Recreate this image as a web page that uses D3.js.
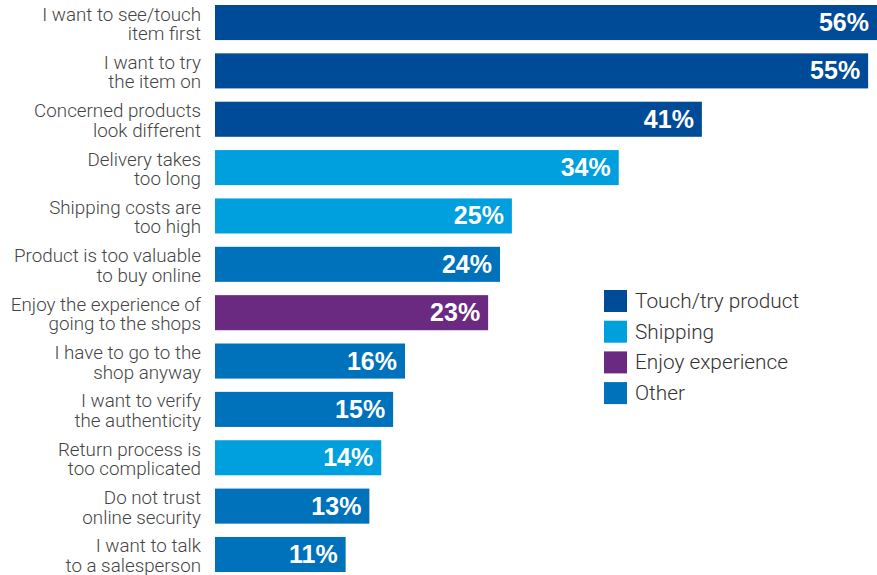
<!DOCTYPE html>
<html>
<head>
<meta charset="utf-8">
<script src="https://cdn.jsdelivr.net/npm/d3@7"></script>
<style>
  html, body { margin: 0; padding: 0; background: #fff; }
  svg { display: block; }
</style>
</head>
<body>
<div id="container"></div>
<script>
const WIDTH = 877;
const HEIGHT = 575;
const LEFT = 215;

// reasons, one entry per bar (two lines each)
var CATEGORIES = [
    ["I want to see/touch", "item first"],
    ["I want to try", "the item on"],
    ["Concerned products", "look different"],
    ["Delivery takes", "too long"],
    ["Shipping costs are", "too high"],
    ["Product is too valuable", "to buy online"],
    ["Enjoy the experience of", "going to the shops"],
    ["I have to go to the", "shop anyway"],
    ["I want to verify", "the authenticity"],
    ["Return process is", "too complicated"],
    ["Do not trust", "online security"],
    ["I want to talk", "to a salesperson"]
];
var VALUES = [56, 55, 41, 34, 25, 24, 23, 16, 15, 14, 13, 11];
var GROUPS = ["Touch/try product", "Touch/try product", "Touch/try product",
    "Shipping", "Shipping", "Other", "Enjoy experience", "Other",
    "Other", "Shipping", "Other", "Other"];
var LEGEND = ["Touch/try product", "Shipping", "Enjoy experience", "Other"];
var COLORS = ["#004b98", "#00a0de", "#6b2a82", "#0071bb"];

var color = d3.scaleOrdinal().domain(LEGEND).range(COLORS);

var XScale = d3.scaleLinear().domain([0, 56]).range([LEFT, 880]);
var YScale = d3.scaleBand()
    .domain(d3.range(CATEGORIES.length))
    .range([5, 572])
    .paddingInner(0.275)
    .paddingOuter(0);

var generateChart = function () {
    var svg = d3.select("#container").append("svg")
        .attr("width", WIDTH)
        .attr("height", HEIGHT);

    var rows = svg.selectAll(".row")
        .data(VALUES)
        .enter().append("g")
        .attr("class", "row");

    rows.append("rect")
        .attr("x", XScale(0))
        .attr("y", function (d, i) { return YScale(i); })
        .attr("width", function (d) { return Math.min(XScale(d), WIDTH) - XScale(0); })
        .attr("height", YScale.bandwidth())
        .attr("fill", function (d, i) { return color(GROUPS[i]); });

    rows.append("text")
        .attr("x", function (d) { return Math.min(XScale(d), WIDTH) - 8; })
        .attr("y", function (d, i) { return YScale(i) + YScale.bandwidth() / 2 + 8.5; })
        .attr("text-anchor", "end")
        .attr("fill", "#fff")
        .style("font-family", "'Liberation Sans', Arial, sans-serif")
        .style("font-weight", 700)
        .style("font-size", "25px")
        .text(function (d) { return d + "%"; });

    var labels = rows.append("text")
        .attr("text-anchor", "end")
        .attr("fill", "#444")
        .style("font-family", "Roboto, sans-serif")
        .style("font-weight", 300)
        .style("font-size", "18.8px");

    labels.selectAll("tspan")
        .data(function (d, i) {
            return CATEGORIES[i].map(function (t, k) { return {t: t, k: k, i: i}; });
        })
        .enter().append("tspan")
        .attr("x", 201)
        .attr("y", function (d) { return YScale(d.i) + YScale.bandwidth() / 2 - 2 + d.k * 19.5; })
        .text(function (d) { return d.t; });

    var legend = svg.selectAll(".legend")
        .data(LEGEND)
        .enter().append("g")
        .attr("class", "legend")
        .attr("transform", function (d, i) { return "translate(604," + (290 + i * 30.7) + ")"; });

    legend.append("rect")
        .attr("width", 23)
        .attr("height", 22)
        .attr("fill", function (d) { return color(d); });

    legend.append("text")
        .attr("x", 31)
        .attr("y", 18)
        .attr("fill", "#333")
        .style("font-family", "Roboto, sans-serif")
        .style("font-weight", 300)
        .style("font-size", "20.8px")
        .text(function (d) { return d; });
};

window.onload = generateChart;
</script>
</body>
</html>
